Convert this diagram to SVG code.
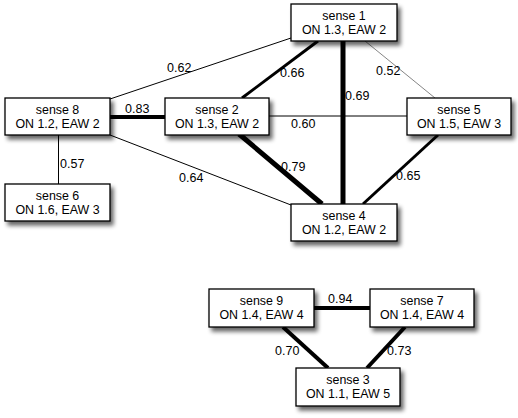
<svg xmlns="http://www.w3.org/2000/svg" width="518" height="418" viewBox="0 0 518 418">
  <defs>
    <filter id="shadow" x="-10%" y="-20%" width="130%" height="170%">
      <feGaussianBlur in="SourceAlpha" stdDeviation="2.3"/>
      <feOffset dx="2.5" dy="3.5" result="blur"/>
      <feComponentTransfer><feFuncA type="linear" slope="0.6"/></feComponentTransfer>
      <feMerge><feMergeNode/><feMergeNode in="SourceGraphic"/></feMerge>
    </filter>
  </defs>
  <style>
    .box { fill: #ffffff; stroke: #000000; stroke-width: 1.3; filter: url(#shadow); }
    .nt { font-family: "Liberation Sans", Arial, sans-serif; font-size: 12.4px; fill: #000; text-anchor: middle; }
    .lbl { font-family: "Liberation Sans", Arial, sans-serif; font-size: 12.5px; fill: #000; }
    .e { stroke: #000; fill: none; }
    .w0 { stroke-width: 0.6; stroke: #333; }
    .w1 { stroke-width: 1; }
    .w3 { stroke-width: 3; }
    .w4 { stroke-width: 4; }
    .w5 { stroke-width: 5; }
  </style>
  <rect width="518" height="418" fill="#ffffff"/>

  <g id="connectors">
    <!-- weight labels -->
    <text class="lbl" x="167" y="72">0.62</text>
    <text class="lbl" x="125" y="113">0.83</text>
    <text class="lbl" x="60" y="168">0.57</text>
    <text class="lbl" x="179" y="182">0.64</text>
    <text class="lbl" x="280" y="77">0.66</text>
    <text class="lbl" x="345" y="100">0.69</text>
    <text class="lbl" x="376" y="75">0.52</text>
    <text class="lbl" x="291" y="128">0.60</text>
    <text class="lbl" x="281" y="171">0.79</text>
    <text class="lbl" x="396" y="180">0.65</text>
    <text class="lbl" x="328" y="303">0.94</text>
    <text class="lbl" x="275" y="355">0.70</text>
    <text class="lbl" x="387" y="355">0.73</text>
    <!-- edges, stroke width follows the weight -->
    <line class="e w1" x1="110" y1="99" x2="291" y2="38"/>
    <line class="e w4" x1="110" y1="117" x2="165" y2="117"/>
    <line class="e w1" x1="58.5" y1="135" x2="58.5" y2="184"/>
    <line class="e w1" x1="110" y1="135" x2="291" y2="205"/>
    <line class="e w3" x1="318" y1="41" x2="242" y2="98"/>
    <line class="e w5" x1="343" y1="41" x2="343" y2="204"/>
    <line class="e w0" x1="365" y1="41" x2="435" y2="98"/>
    <line class="e w1" x1="269" y1="116" x2="407" y2="116"/>
    <line class="e w5" x1="239" y1="134" x2="322" y2="204"/>
    <line class="e w3" x1="438" y1="135" x2="363" y2="204"/>
    <line class="e w4" x1="314" y1="308" x2="370" y2="308"/>
    <line class="e w4" x1="283" y1="327" x2="328" y2="368"/>
    <line class="e w4" x1="405" y1="327" x2="367" y2="368"/>
  </g>

  <g id="sense1">
    <rect class="box" x="291" y="4" width="106" height="37"/>
    <text class="nt" x="344" y="20">sense 1</text>
    <text class="nt" x="344" y="33.5">ON 1.3, EAW 2</text>
  </g>
  <g id="sense8">
    <rect class="box" x="5" y="98" width="105" height="37"/>
    <text class="nt" x="57.5" y="114">sense 8</text>
    <text class="nt" x="57.5" y="127.5">ON 1.2, EAW 2</text>
  </g>
  <g id="sense2">
    <rect class="box" x="165" y="98" width="104" height="37"/>
    <text class="nt" x="217" y="114">sense 2</text>
    <text class="nt" x="217" y="127.5">ON 1.3, EAW 2</text>
  </g>
  <g id="sense5">
    <rect class="box" x="407" y="98" width="104" height="37"/>
    <text class="nt" x="459" y="114">sense 5</text>
    <text class="nt" x="459" y="127.5">ON 1.5, EAW 3</text>
  </g>
  <g id="sense6">
    <rect class="box" x="5" y="184" width="105" height="37"/>
    <text class="nt" x="57.5" y="200">sense 6</text>
    <text class="nt" x="57.5" y="213.5">ON 1.6, EAW 3</text>
  </g>
  <g id="sense4">
    <rect class="box" x="291" y="204" width="106" height="37"/>
    <text class="nt" x="344" y="220">sense 4</text>
    <text class="nt" x="344" y="233.5">ON 1.2, EAW 2</text>
  </g>
  <g id="sense9">
    <rect class="box" x="209" y="289" width="105" height="38"/>
    <text class="nt" x="261.5" y="305">sense 9</text>
    <text class="nt" x="261.5" y="318.5">ON 1.4, EAW 4</text>
  </g>
  <g id="sense7">
    <rect class="box" x="370" y="289" width="104" height="38"/>
    <text class="nt" x="422" y="305">sense 7</text>
    <text class="nt" x="422" y="318.5">ON 1.4, EAW 4</text>
  </g>
  <g id="sense3">
    <rect class="box" x="296" y="368" width="104" height="38"/>
    <text class="nt" x="348" y="384">sense 3</text>
    <text class="nt" x="348" y="397.5">ON 1.1, EAW 5</text>
  </g>
</svg>
